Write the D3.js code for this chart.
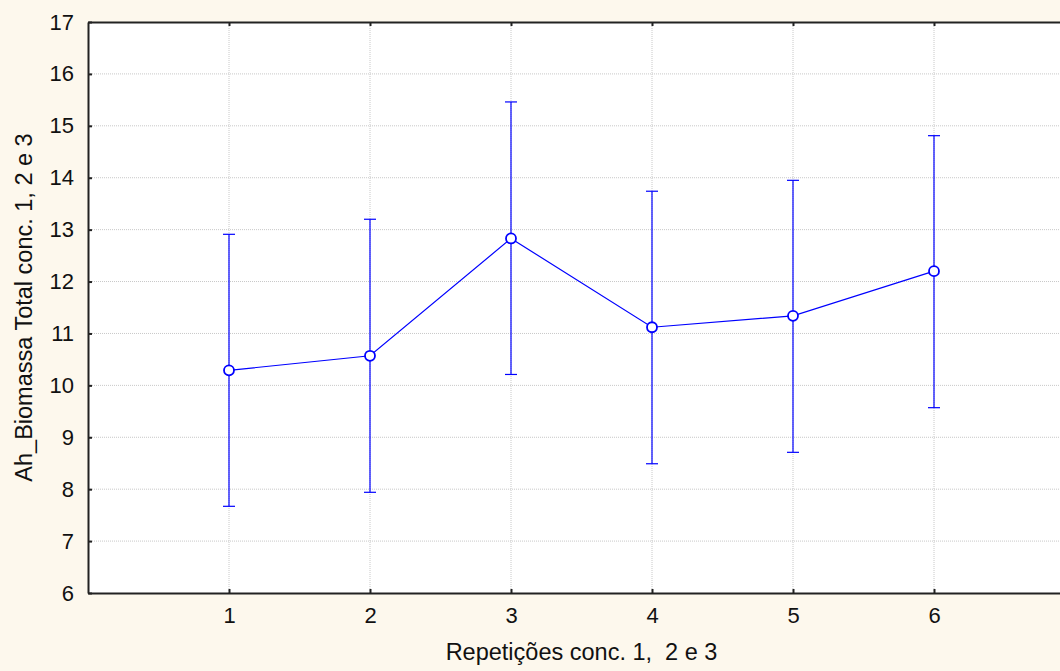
<!DOCTYPE html>
<html>
<head>
<meta charset="utf-8">
<script src="https://cdn.jsdelivr.net/npm/d3@7"></script>
<style>
  body { margin: 0; background: #fdf8ed; }
  svg { display: block; font-family: "Liberation Sans", Arial, sans-serif; }
  .grid line { stroke: #c8c8c8; stroke-width: 1; stroke-dasharray: 1,1; }
</style>
</head>
<body>
<div class="chart"></div>
<script>
// data
var repeticoes = [1, 2, 3, 4, 5, 6];
var medias = [10.29, 10.57, 12.83, 11.12, 11.34, 12.20];
var superior = [12.91, 13.20, 15.46, 13.74, 13.95, 14.81];
var inferior = [7.67, 7.94, 10.21, 8.49, 8.71, 9.57];
var yTicks = [6, 7, 8, 9, 10, 11, 12, 13, 14, 15, 16, 17];

var svgWidth = 1060, svgHeight = 671;
var margin = { top: 22, right: -15, bottom: 78, left: 88 };
var width = svgWidth - margin.left - margin.right;
var height = svgHeight - margin.top - margin.bottom;

var svg = d3.select(".chart")
  .append("svg")
  .attr("width", svgWidth)
  .attr("height", svgHeight);

var chartGroup = svg.append("g")
  .attr("transform", `translate(${margin.left}, ${margin.top})`);

var data = repeticoes.map(function(r, i) {
  return { rep: r, mean: medias[i], hi: superior[i], lo: inferior[i] };
});

var x = d3.scaleLinear().domain([0, 7]).range([0, width]);
var y = d3.scaleLinear().domain([6, 17]).range([height, 0]);

chartGroup.append("rect")
  .attr("width", width)
  .attr("height", height)
  .attr("fill", "white");

// grid
var grid = chartGroup.append("g").attr("class", "grid");
grid.selectAll(".hg").data(yTicks.slice(1, -1)).enter().append("line")
  .attr("x1", 0).attr("x2", width)
  .attr("y1", d => y(d)).attr("y2", d => y(d));
grid.selectAll(".vg").data(repeticoes).enter().append("line")
  .attr("x1", d => x(d)).attr("x2", d => x(d))
  .attr("y1", 0).attr("y2", height);

// axes
var bottomAxis = d3.axisBottom(x).tickValues(repeticoes).tickFormat(d3.format("d"))
  .tickSizeInner(-4).tickSizeOuter(0).tickPadding(14);
var topAxis = d3.axisTop(x).tickValues(repeticoes).tickSizeInner(-4).tickSizeOuter(0).tickFormat("");
var leftAxis = d3.axisLeft(y).tickValues(yTicks).tickFormat(d3.format("d"))
  .tickSizeInner(-4).tickSizeOuter(0).tickPadding(14);

var gb = chartGroup.append("g")
  .attr("transform", `translate(0, ${height})`)
  .call(bottomAxis);
var gt = chartGroup.append("g").call(topAxis);
var gl = chartGroup.append("g").call(leftAxis);

[gb, gt, gl].forEach(function(g) {
  g.attr("font-size", 22).attr("font-family", "Liberation Sans, Arial, sans-serif");
  g.select(".domain").attr("stroke", "#222").attr("stroke-width", 2);
  g.selectAll(".tick line").attr("stroke", "#222").attr("stroke-width", 2);
  g.selectAll("text").attr("fill", "#111");
});

// error bars
var eb = chartGroup.append("g").attr("stroke", "#0000ff").attr("stroke-width", 1.2);
eb.selectAll(".v").data(data).enter().append("line")
  .attr("x1", d => x(d.rep)).attr("x2", d => x(d.rep))
  .attr("y1", d => y(d.hi)).attr("y2", d => y(d.lo));
eb.selectAll(".ct").data(data).enter().append("line")
  .attr("x1", d => x(d.rep) - 6).attr("x2", d => x(d.rep) + 6)
  .attr("y1", d => y(d.hi)).attr("y2", d => y(d.hi));
eb.selectAll(".cb").data(data).enter().append("line")
  .attr("x1", d => x(d.rep) - 6).attr("x2", d => x(d.rep) + 6)
  .attr("y1", d => y(d.lo)).attr("y2", d => y(d.lo));

// mean line
var line = d3.line().x(d => x(d.rep)).y(d => y(d.mean));
chartGroup.append("path")
  .datum(data)
  .attr("d", line)
  .attr("fill", "none")
  .attr("stroke", "#0000ff")
  .attr("stroke-width", 1.2);

chartGroup.selectAll("circle")
  .data(data)
  .enter()
  .append("circle")
  .attr("cx", d => x(d.rep))
  .attr("cy", d => y(d.mean))
  .attr("r", 5)
  .attr("fill", "white")
  .attr("stroke", "#0000ff")
  .attr("stroke-width", 1.8);

// axis labels
chartGroup.append("text")
  .attr("transform", "rotate(-90)")
  .attr("x", -(height / 2))
  .attr("y", -margin.left + 32)
  .attr("text-anchor", "middle")
  .attr("font-size", 23.5)
  .attr("fill", "#111")
  .text("Ah_Biomassa Total conc. 1, 2 e 3");

chartGroup.append("text")
  .attr("x", width / 2)
  .attr("y", height + 67)
  .attr("text-anchor", "middle")
  .attr("font-size", 23.5)
  .attr("fill", "#111")
  .style("white-space", "pre")
  .text("Repetições conc. 1,  2 e 3");
</script>
</body>
</html>
